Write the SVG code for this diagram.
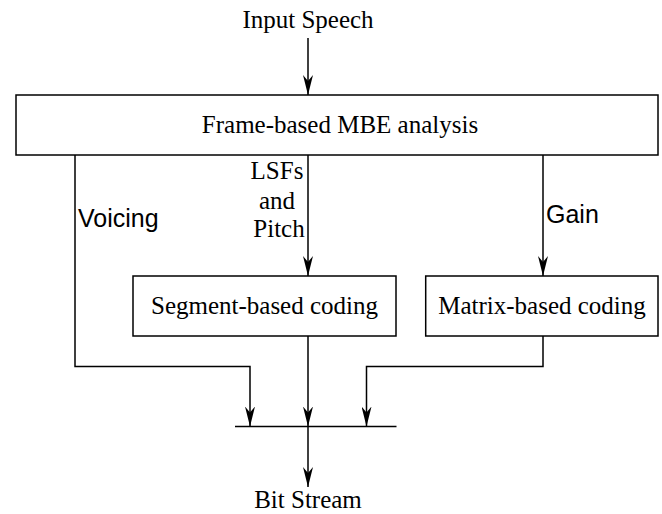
<svg xmlns="http://www.w3.org/2000/svg" width="662" height="514" viewBox="0 0 662 514">
<style>
.box{fill:#fff;stroke:#000;stroke-width:1.5}
.ln{fill:none;stroke:#000;stroke-width:1.5}
.t{font-family:"Liberation Serif","Times New Roman",serif;font-size:25px;fill:#000}
.s{font-family:"Liberation Sans",Arial,sans-serif;font-size:25px;fill:#000}
</style>
<defs>
<marker id="ah" viewBox="0 0 20 10" refX="20" refY="5" markerWidth="20" markerHeight="10" markerUnits="userSpaceOnUse" orient="auto">
<path d="M0,0 L20,5 L0,10 L6,5 Z" fill="#000"/>
</marker>
</defs>
<g id="connectors">
<line class="ln" x1="308" y1="38" x2="308" y2="95" marker-end="url(#ah)"/>
<line class="ln" x1="308" y1="155" x2="308" y2="276" marker-end="url(#ah)"/>
<line class="ln" x1="543" y1="155" x2="543" y2="276" marker-end="url(#ah)"/>
<polyline class="ln" points="75,155 75,366.5 250,366.5 250,426.5" marker-end="url(#ah)"/>
<line class="ln" x1="308" y1="336" x2="308" y2="426.5" marker-end="url(#ah)"/>
<polyline class="ln" points="543,336 543,366.5 366.5,366.5 366.5,426.5" marker-end="url(#ah)"/>
<line class="ln" x1="235" y1="426.5" x2="396.5" y2="426.5"/>
<line class="ln" x1="308" y1="426.5" x2="308" y2="487" marker-end="url(#ah)"/>
</g>
<g id="input"><text class="t" x="308" y="28" text-anchor="middle">Input Speech</text></g>
<g id="mbe">
<rect class="box" x="16" y="95" width="642" height="60"/>
<text class="t" x="340" y="133" text-anchor="middle">Frame-based MBE analysis</text>
</g>
<g id="labels">
<text class="t" x="277" y="179" text-anchor="middle">LSFs</text>
<text class="t" x="277" y="209" text-anchor="middle">and</text>
<text class="t" x="279" y="237" text-anchor="middle">Pitch</text>
<text class="s" x="78" y="227">Voicing</text>
<text class="s" x="546" y="223">Gain</text>
</g>
<g id="segment">
<rect class="box" x="133" y="276" width="263" height="60"/>
<text class="t" x="264.5" y="314" text-anchor="middle">Segment-based coding</text>
</g>
<g id="matrix">
<rect class="box" x="425.7" y="276" width="232.3" height="60"/>
<text class="t" x="542" y="314" text-anchor="middle">Matrix-based coding</text>
</g>
<g id="output"><text class="t" x="308" y="508" text-anchor="middle">Bit Stream</text></g>
</svg>
